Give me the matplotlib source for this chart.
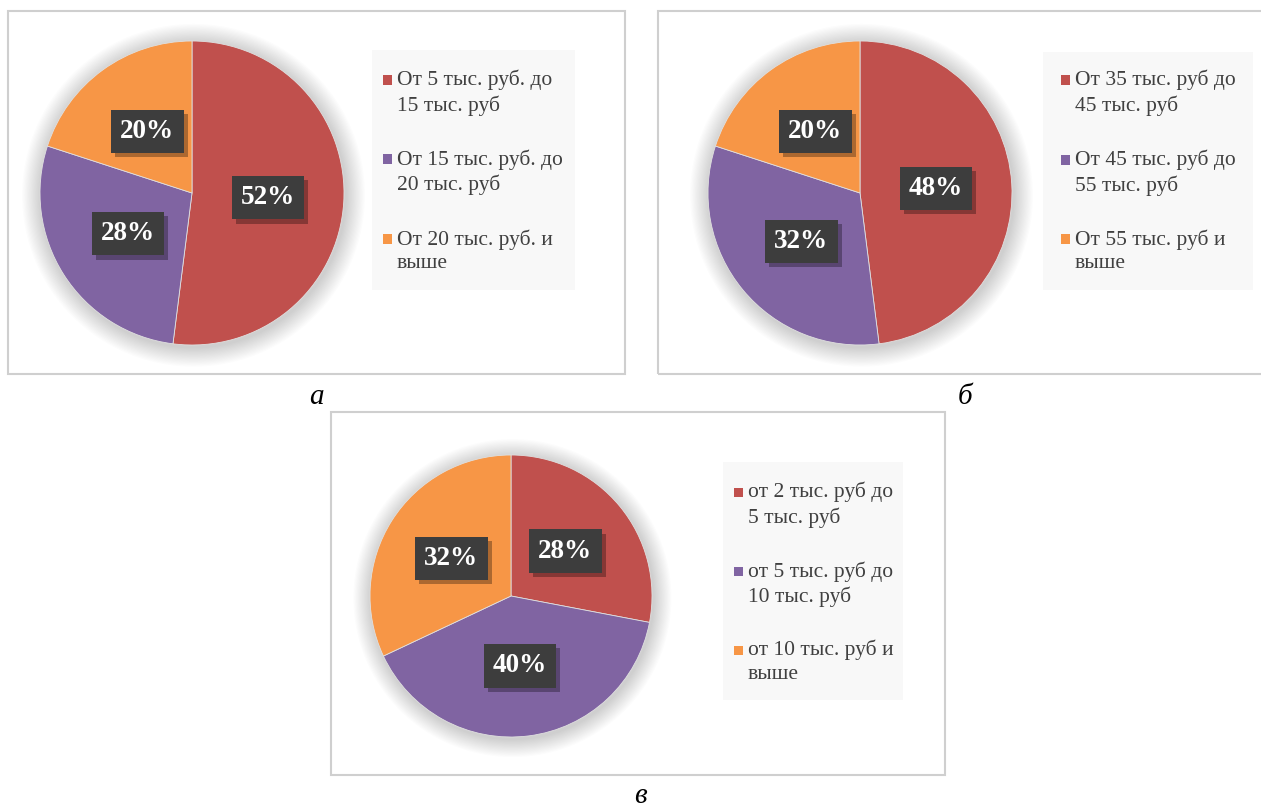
import matplotlib

matplotlib.use("Agg")
import matplotlib.pyplot as plt
import matplotlib.patheffects as pe
from matplotlib.patches import Rectangle, Circle

W, H = 1261, 807
SERIF = ["Liberation Serif", "DejaVu Serif"]
COLORS = ["#C0504D", "#8064A2", "#F79646"]

# data
values_a = [52, 28, 20]
labels_a = ["От 5 тыс. руб. до\n15 тыс. руб",
            "От 15 тыс. руб. до\n20 тыс. руб",
            "От 20 тыс. руб. и\nвыше"]
values_b = [48, 32, 20]
labels_b = ["От 35 тыс. руб до\n45 тыс. руб",
            "От 45 тыс. руб до\n55 тыс. руб",
            "От 55 тыс. руб и\nвыше"]
values_c = [28, 40, 32]
labels_c = ["от 2 тыс. руб до\n5 тыс. руб",
            "от 5 тыс. руб до\n10 тыс. руб",
            "от 10 тыс. руб и\nвыше"]
captions = ["а", "б", "в"]

fig = plt.figure(figsize=(W / 100, H / 100), dpi=100)
fig.patch.set_facecolor("white")


def fx(x):
    return x / W


def fy(y):
    return 1 - y / H


def frame(x0, y0, x1, y1):
    fig.patches.append(Rectangle((fx(x0), fy(y1)), fx(x1 - x0), (y1 - y0) / H,
                                 transform=fig.transFigure, fill=False,
                                 edgecolor="#cfcfcf", linewidth=1.5))


def pie_panel(values, cx, cy, r):
    k = 1.2
    ax = fig.add_axes([fx(cx - k * r), fy(cy + k * r), fx(2 * k * r), 2 * k * r / H])
    # soft shadow around the pie
    for i in range(16):
        rr = 1.0 + 0.008 * (i + 1)
        ax.add_patch(Circle((0.01, -0.015), rr, facecolor="black",
                            edgecolor="none", alpha=0.011, zorder=0))
    wedges, _, autotexts = ax.pie(values, colors=COLORS, startangle=90,
                                  counterclock=False, radius=1.0,
                                  autopct="%d%%", pctdistance=0.5,
                                  wedgeprops=dict(linewidth=0.6, edgecolor="#e0e0e0"),
                                  textprops=dict(color="white", fontsize=19.5,
                                                 fontweight="bold", family=SERIF))
    ax.set_xlim(-k, k)
    ax.set_ylim(-k, k)
    ax.axis("off")
    for t in autotexts:
        t.set_bbox(dict(boxstyle="square,pad=0.34", facecolor="#3d3d3d",
                        edgecolor="none"))
        t.get_bbox_patch().set_path_effects(
            [pe.withSimplePatchShadow(offset=(3, -3), shadow_rgbFace="black", alpha=0.3)])
    return ax


def legend_panel(labels, x0, y0, x1, y1, mx, tx, ys):
    fig.patches.append(Rectangle((fx(x0), fy(y1)), fx(x1 - x0), (y1 - y0) / H,
                                 transform=fig.transFigure, facecolor="#f8f8f8",
                                 edgecolor="none"))
    for lab, col, y in zip(labels, COLORS, ys):
        fig.patches.append(Rectangle((fx(mx), fy(y + 4.5)), fx(9), 9 / H,
                                     transform=fig.transFigure, facecolor=col,
                                     edgecolor="none"))
        fig.text(fx(tx), fy(y - 10), lab, ha="left", va="top", fontsize=15.5,
                 color="#404040", family=SERIF, linespacing=1.3)


# panel а
frame(8, 11, 625, 374)
pie_panel(values_a, 192, 193, 152)
legend_panel(labels_a, 372, 50, 575, 290, 383, 397, [80, 159, 239])
fig.text(fx(316), fy(397), captions[0], ha="center", va="center", fontsize=21,
         style="italic", family=SERIF, color="black")

# panel б
frame(658, 11, 1266, 374)
pie_panel(values_b, 860, 193, 152)
legend_panel(labels_b, 1043, 52, 1253, 290, 1061, 1075, [80, 160, 239])
fig.text(fx(965), fy(397), captions[1], ha="center", va="center", fontsize=21,
         style="italic", family=SERIF, color="black")

# panel в
frame(331, 412, 945, 775)
pie_panel(values_c, 511, 596, 141)
legend_panel(labels_c, 723, 462, 903, 700, 734, 748, [492, 571, 650])
fig.text(fx(640), fy(796), captions[2], ha="center", va="center", fontsize=21,
         style="italic", family=SERIF, color="black")

fig.savefig("out.png", dpi=100, facecolor="white")
